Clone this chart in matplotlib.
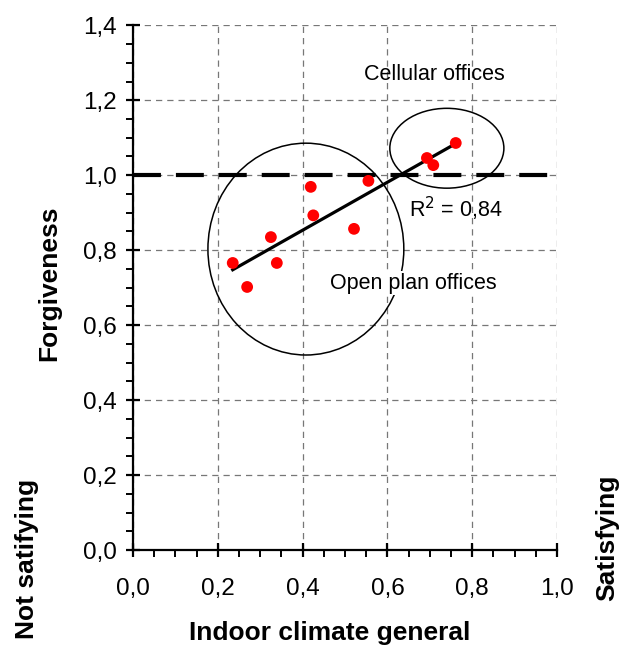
import numpy as np
import matplotlib
matplotlib.use("Agg")
import matplotlib.pyplot as plt
from matplotlib.patches import Ellipse
from matplotlib.ticker import MultipleLocator

plt.rcParams['font.family'] = ['Liberation Sans', 'DejaVu Sans']

# indoor climate general (x) vs forgiveness (y)
climate = [0.235, 0.269, 0.325, 0.339, 0.419, 0.425, 0.521, 0.555, 0.693, 0.708, 0.761]
forgiveness = [0.766, 0.702, 0.835, 0.766, 0.969, 0.893, 0.857, 0.985, 1.046, 1.027, 1.086]

x = np.array(climate)
y = np.array(forgiveness)

fig = plt.figure(figsize=(6.19, 6.48), dpi=100)
ax = fig.add_axes([0.215, 0.151, 0.685, 0.81])

ax.set_xlim(0, 1.0)
ax.set_ylim(0, 1.4)

# grid on the major ticks, dashed grey
ax.xaxis.set_major_locator(MultipleLocator(0.2))
ax.yaxis.set_major_locator(MultipleLocator(0.2))
ax.xaxis.set_minor_locator(MultipleLocator(0.05))
ax.yaxis.set_minor_locator(MultipleLocator(0.05))
ax.grid(True, which='major', color='#777777', linestyle=(0, (5, 4)), linewidth=0.9)
ax.set_axisbelow(True)

fmt = lambda v, p: f"{v:.1f}".replace('.', ',')
ax.xaxis.set_major_formatter(plt.FuncFormatter(fmt))
ax.yaxis.set_major_formatter(plt.FuncFormatter(fmt))

for s in ['top', 'right']:
    ax.spines[s].set_visible(False)
for s in ['left', 'bottom']:
    ax.spines[s].set_linewidth(1.6)

ax.tick_params(which='major', direction='inout', length=10, width=1.6, labelsize=17.5)
ax.tick_params(axis='x', which='major', pad=15)
ax.tick_params(axis='y', which='major', pad=7)
ax.tick_params(which='minor', direction='out', length=5, width=1.4)

# reference line at 1.0
ax.axhline(1.0, color='black', linewidth=3, dashes=(6.7, 3.6), zorder=3)

# ellipses round the two groups
ax.add_patch(Ellipse((0.4075, 0.803), 0.462, 0.565, fill=False, edgecolor='black', linewidth=1.1, zorder=2))
ax.add_patch(Ellipse((0.740, 1.072), 0.269, 0.213, fill=False, edgecolor='black', linewidth=1.1, zorder=2))

# linear fit
k, m = np.polyfit(x, y, 1)
xs = np.array([x.min(), x.max()])
ax.plot(xs, k * xs + m, color='black', linewidth=2.3, zorder=4)

ax.scatter(x, y, s=72, color='#ff0000', edgecolors='none', zorder=5)

ax.text(0.711, 1.269, 'Cellular offices', fontsize=15.5, ha='center', va='center')
ax.text(0.650, 0.909, 'R$^2$ = 0,84', fontsize=15.5, ha='left', va='center')
ax.text(0.464, 0.712, 'Open plan offices', fontsize=15.5, ha='left', va='center',
        bbox=dict(facecolor='white', edgecolor='none', pad=1), zorder=3)

fig.text(49 / 619, 1 - 283 / 648, 'Forgiveness', rotation=90, fontsize=19, fontweight='bold', ha='center', va='center')
fig.text(27 / 619, 1 - 559 / 648, 'Not satifying', rotation=90, fontsize=19, fontweight='bold', ha='center', va='center')
fig.text(607 / 619, 1 - 538 / 648, 'Satisfying', rotation=90, fontsize=19, fontweight='bold', ha='center', va='center')
fig.text(330 / 619, 1 - 633 / 648, 'Indoor climate general', fontsize=19, fontweight='bold', ha='center', va='center')

fig.savefig('out.png', dpi=100)
